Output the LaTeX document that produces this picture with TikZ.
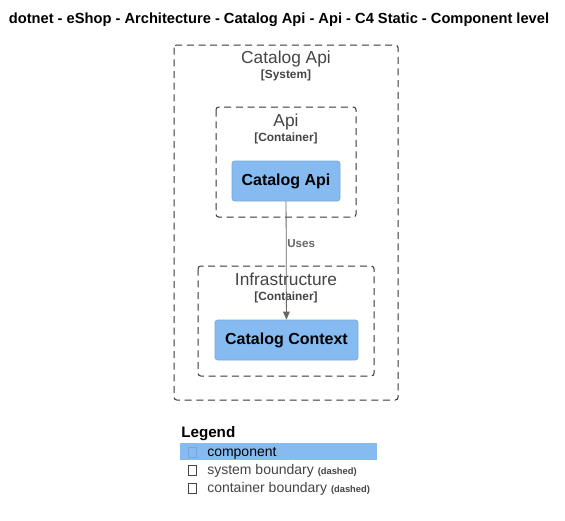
\documentclass[tikz,border=0pt]{standalone}
\usepackage{fontspec}
\setmainfont{Liberation Sans}
\usetikzlibrary{arrows.meta}
\definecolor{compfill}{HTML}{85BBF0}
\definecolor{compline}{HTML}{78A8D8}
\definecolor{bndgray}{HTML}{444444}
\definecolor{relgray}{HTML}{666666}
\tikzset{
  boundary/.style={draw=bndgray!80!black, dash pattern=on 5.25pt off 3.5pt, rounded corners=2pt, line width=0.75pt},
  compbox/.style={draw=compline, fill=compfill, rounded corners=2pt, line width=0.5pt},
  bndtitle/.style={anchor=base, text=bndgray, font=\fontsize{13}{15}\selectfont},
  bndtype/.style={anchor=base, text=bndgray, font=\bfseries\fontsize{8.9}{10}\selectfont},
  comptext/.style={font=\bfseries\fontsize{12}{14}\selectfont},
  legtext/.style={anchor=base west, text=bndgray, font=\fontsize{10.5}{12}\selectfont},
  legglyph/.style={draw=bndgray, line width=0.4pt, minimum width=6pt, minimum height=7.5pt, inner sep=0pt},
}
\begin{document}
\begin{tikzpicture}[x=0.75pt, y=-0.75pt]
\useasboundingbox (0,0) rectangle (565,521);

% title
\node[anchor=base, font=\bfseries\fontsize{11}{13}\selectfont] (title) at (279,23) {dotnet - eShop - Architecture - Catalog Api - Api - C4 Static - Component level};

% system boundary
\draw[boundary] (174,45) rectangle (398,400);
\node[bndtitle] (sysname) at (286,64) {Catalog Api};
\node[bndtype] (systype) at (286,79) {[System]};

% api container
\draw[boundary] (216,107) rectangle (356,217);
\node[bndtitle] (apiname) at (286,126) {Api};
\node[bndtype] (apitype) at (286,141) {[Container]};

% infrastructure container
\draw[boundary] (198,266) rectangle (374,376);
\node[bndtitle] (infname) at (286,285) {Infrastructure};
\node[bndtype] (inftype) at (286,300) {[Container]};

% components
\node[compbox, comptext, minimum width=81pt, minimum height=30pt] (catapi) at (286,181) {Catalog Api};
\node[compbox, comptext, minimum width=107.25pt, minimum height=30pt] (catctx) at (286.5,340) {Catalog Context};

% relation
\draw[-{Triangle[length=6pt, width=5pt]}, relgray, line width=0.6pt] (catapi) -- (catctx);
\node[anchor=base west, inner sep=0pt, text=relgray, font=\bfseries\fontsize{8.7}{10}\selectfont] (uses) at (287,247) {Uses};

% legend
\node[anchor=base west, inner sep=0pt, font=\bfseries\fontsize{11.4}{13}\selectfont] (legend) at (181,437) {Legend};
\fill[compfill] (180,443) rectangle (377,460);
\node[legglyph, draw=compline] (g1) at (192,452) {};
\node[legtext, inner sep=0pt, text=black] (l1) at (207,456) {component};
\node[legglyph] (g2) at (192,470) {};
\node[legtext, inner sep=0pt] (l2) at (207,474) {system boundary {\bfseries\fontsize{7}{8}\selectfont(dashed)}};
\node[legglyph] (g3) at (192,488) {};
\node[legtext, inner sep=0pt] (l3) at (207,492) {container boundary {\bfseries\fontsize{7}{8}\selectfont(dashed)}};
\end{tikzpicture}
\end{document}
